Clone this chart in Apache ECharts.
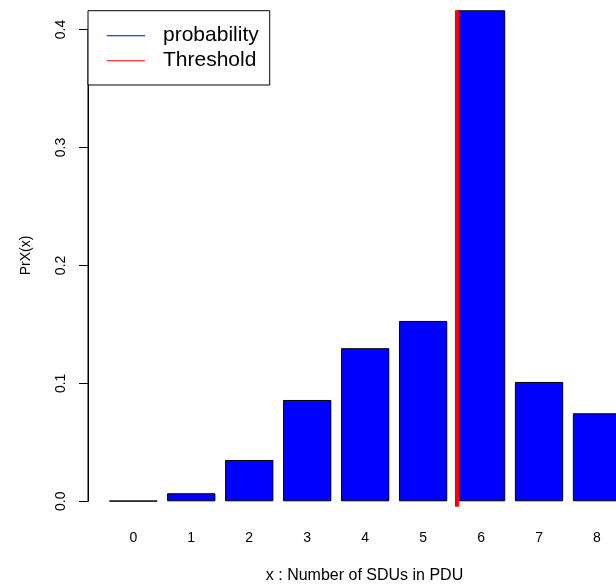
<!DOCTYPE html>
<html>
<head>
<meta charset="utf-8">
<script src="https://cdn.jsdelivr.net/npm/echarts@6/dist/echarts.min.js"></script>
<style>
html,body{margin:0;padding:0;background:#fff;}
#chart{width:616px;height:585px;}
</style>
</head>
<body>
<div id="chart"></div>
<script>
// Data
var categories = ['0', '1', '2', '3', '4', '5', '6', '7', '8'];
var probability = [0.0004, 0.0068, 0.035, 0.0859, 0.1298, 0.1529, 0.4163, 0.1012, 0.0746];
var thresholdX = 5.583;              // position in category-index units
var thresholdY = [-0.0046, 0.4163];  // vertical extent of the threshold line
var yTicks = [0, 0.1, 0.2, 0.3, 0.4];

var FONT = 'Liberation Sans, Arial, Helvetica, sans-serif';

// x scale: value axis starting at 0 at the y-axis line; first bar sits 0.7816 units in
var X0 = 0.7816;
var positions = categories.map(function (c, i) { return i + X0; });
var barData = probability.map(function (v, i) { return [positions[i], v]; });

var chart = echarts.init(document.getElementById('chart'), null, {renderer: 'canvas'});
chart.setOption({
  animation: false,
  backgroundColor: '#ffffff',
  textStyle: {fontFamily: FONT, color: '#000'},
  grid: {left: 88, width: 553, top: 29.5, height: 471.8, containLabel: false, outerBoundsMode: 'none'},
  legend: {
    orient: 'vertical',
    left: 88, top: 10.7,
    backgroundColor: '#ffffff',
    borderColor: '#000', borderWidth: 1, borderRadius: 0,
    padding: [9.5, 11, 8.8, 18.7],
    itemGap: -6,
    itemWidth: 38.3, itemHeight: 1,
    itemStyle: {borderWidth: 0},
    textStyle: {fontSize: 21, lineHeight: 25, color: '#000', fontFamily: FONT, padding: [6, 0, 0, 13]},
    data: [
      {name: 'probability', icon: 'rect', itemStyle: {color: '#0000FF', borderWidth: 0}},
      {name: 'Threshold', icon: 'rect', itemStyle: {color: '#FF0000', borderWidth: 0}}
    ]
  },
  xAxis: {
    type: 'value', min: 0, max: 9.5406,
    axisLine: {show: false}, axisTick: {show: false}, splitLine: {show: false},
    axisLabel: {
      show: true, customValues: positions, margin: 29.5, fontSize: 14, color: '#000', fontFamily: FONT,
      formatter: function (v) { return categories[Math.round(v - X0)]; }
    },
    name: 'x : Number of SDUs in PDU', nameLocation: 'middle', nameGap: 66,
    nameTextStyle: {fontSize: 16, color: '#000', fontFamily: FONT}
  },
  yAxis: {
    type: 'value', min: yTicks[0], max: yTicks[yTicks.length - 1], interval: 0.1,
    axisLine: {show: true, onZero: true, lineStyle: {color: '#000', width: 1}},
    axisTick: {show: true, length: 9, lineStyle: {color: '#000', width: 1}},
    axisLabel: {rotate: 90, margin: 20, fontSize: 14, color: '#000', fontFamily: FONT,
      formatter: function (v) { return v.toFixed(1); }},
    splitLine: {show: false},
    name: 'PrX(x)', nameLocation: 'middle', nameGap: 55, nameRotate: 90,
    nameTextStyle: {fontSize: 14, color: '#000', fontFamily: FONT, padding: [0, 0, 0, 20]}
  },
  series: [
    {
      name: 'probability', type: 'bar',
      data: barData, barWidth: 48.3, clip: false,
      itemStyle: {color: '#0000FF', borderColor: '#000', borderWidth: 1}
    },
    {
      name: 'Threshold', type: 'line',
      data: [[thresholdX + X0, thresholdY[0]], [thresholdX + X0, thresholdY[1]]],
      symbol: 'none', clip: false, z: 5,
      lineStyle: {color: '#FF0000', width: 4, cap: 'butt'},
      itemStyle: {color: '#FF0000'}
    },
    {
      name: 'yAxisLine', type: 'line', silent: true,
      data: [[0, yTicks[0]], [0, yTicks[yTicks.length - 1]]],
      symbol: 'none', clip: false, z: 1,
      lineStyle: {color: '#000', width: 1, cap: 'butt'}
    }
  ]
});
</script>
</body>
</html>
